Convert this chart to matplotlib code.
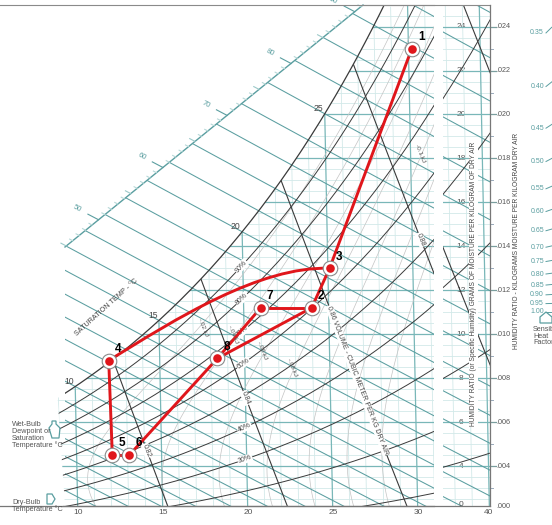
import numpy as np
import matplotlib
matplotlib.use("Agg")
import matplotlib.pyplot as plt
from matplotlib.transforms import Affine2D, blended_transform_factory
from matplotlib.path import Path
from matplotlib.patches import PathPatch, Polygon

plt.rcParams['font.family'] = ['Liberation Sans', 'DejaVu Sans']

# ------------------------------------------------------------------ data
state_names = ["1", "2", "3", "4", "5", "6", "7", "8"]
state_db = [30.2, 24.0, 25.1, 12.0, 12.1, 13.1, 21.0, 18.4]     # dry bulb, °C
state_w = [23.0, 11.2, 13.0, 8.8, 4.5, 4.5, 11.2, 8.9]          # humidity ratio, g/kg
process_legs = [("1", "3"), ("3", "2"), ("2", "7"), ("7", "8"),
                ("2", "8"), ("4", "5"), ("5", "6"), ("6", "8")]
# curved leg 3 -> 4, cubic Bezier handles (dry bulb, humidity ratio)
curve_handle_db = [21.0, 16.0]
curve_handle_w = [13.1, 10.7]

db_ticks = [10, 15, 20, 25, 30]
w_ticks = [4, 6, 8, 10, 12, 14, 16, 18, 20, 22, 24]
w_ticks_kg = [".004", ".006", ".008", ".010", ".012", ".014", ".016",
              ".018", ".020", ".022", ".024"]
sat_labels = [10, 15, 20, 25]
rh_curves = [10, 20, 30, 40, 50, 60, 70, 80, 90]
rh_labels = [90, 80, 70, 60, 40, 30]
volume_lines = [0.78, 0.80, 0.82, 0.84, 0.86, 0.88, 0.90, 0.92]
volume_label_vals = [0.82, 0.84, 0.88]
volume_label_w = [4.7, 7.1, 14.3]
enthalpy_labels = [50, 60, 70, 80, 90]
deviation_levels = [-0.14, -0.12, -0.10, -0.08, -0.06, -0.04, -0.02]
shf_values = [0.35, 0.40, 0.45, 0.50, 0.55, 0.60, 0.65, 0.70, 0.75,
              0.80, 0.85, 0.90, 0.95, 1.00]

# ------------------------------------------------------------------ psychrometrics
P_ATM = 101.325


def p_sat(t):
    return 0.61094 * np.exp(17.625 * t / (t + 243.04))


def w_from_pv(pv):
    return 621.945 * pv / (P_ATM - pv)


def w_sat(t):
    return w_from_pv(p_sat(t))


def w_rh(t, rh):
    return w_from_pv(rh / 100.0 * p_sat(t))


def w_wetbulb(t, twb):
    ws = w_sat(twb) / 1000.0
    return 1000.0 * ((2501 - 2.326 * twb) * ws - 1.006 * (t - twb)) / \
        (2501 + 1.86 * t - 4.186 * twb)


def t_volume(v, w):
    return v * P_ATM / (0.287042 * (1 + 1.607858 * w / 1000.0)) - 273.15


def enthalpy(t, w):
    return 1.006 * t + w / 1000.0 * (2501 + 1.86 * t)


# ------------------------------------------------------------------ layout
FIG_W, FIG_H = 552, 525
PX10, PX_PER_C = 78.3, 17.0
PY4, PX_PER_G = 466.0, 21.97
SKEW, SKEW_W0 = 0.026, 0.7


def x_of(px):
    return 10 + (px - PX10) / PX_PER_C


def w_of(py):
    return 4 + (PY4 - py) / PX_PER_G


def t_of(x, w):
    return x + SKEW * (w - SKEW_W0)


def x_from_t(t, w):
    return t - SKEW * (w - SKEW_W0)


fig = plt.figure(figsize=(FIG_W / 100, FIG_H / 100), dpi=100)
ax = fig.add_axes([0, 0, 1, 1])
ax.set_xlim(x_of(0), x_of(FIG_W))
ax.set_ylim(w_of(FIG_H), w_of(0))
ax.axis('off')

STRIP_L, STRIP_R = 443, 490
ax2 = fig.add_axes([STRIP_L / FIG_W, 0, (STRIP_R - STRIP_L) / FIG_W, 1])
ax2.set_xlim(40 - (STRIP_R - STRIP_L) / PX_PER_C, 40)
ax2.set_ylim(w_of(FIG_H), w_of(0))
ax2.axis('off')
ax2.patch.set_alpha(0)

shear = Affine2D.from_values(1, 0, -SKEW, 1, SKEW * SKEW_W0, 0)
tr = shear + ax.transData

TEAL = "#5a9ea0"
TEAL_MAJ = "#79b7b8"
GRID = "#d2e9e9"
DARK = "#3a3a3a"
GRAYTXT = "#555555"
RED = "#e0161b"
narrow = ["Liberation Sans Narrow", "Liberation Sans"]

X_L, X_R = x_of(65), x_of(434)
W_B, W_T = w_of(506), w_of(5)
scale_a = (x_of(65), w_of(247))
scale_b = (x_of(363), w_of(5))

# chart outline (includes the region above saturation up to the enthalpy scale)
clip_all = Polygon([(X_L, W_B), (X_R, W_B), (X_R, W_T), scale_b, scale_a],
                   closed=True, transform=ax.transData)
# region below the saturation curve
ts = np.linspace(-10, 40, 600)
wsat = w_sat(ts)
xsat = x_from_t(ts, wsat)
keep = (wsat <= W_T) & (xsat >= X_L - 0.5)
sat_poly = [(X_L, W_B), (X_R, W_B), (X_R, W_T)] + \
    list(zip(xsat[keep][::-1], wsat[keep][::-1]))
clip_sub = Polygon(sat_poly, closed=True, transform=ax.transData)

strip_rect = [(-50, W_B), (80, W_B), (80, W_T), (-50, W_T)]
clip_strip = Polygon(strip_rect, closed=True, transform=ax2.transData)

# enthalpy deviation field for the faint deviation curves
Tg, Wg = np.meshgrid(np.linspace(-5, 45, 260), np.linspace(0.5, 27, 200))
lo = np.full(Tg.shape, -15.0)
hi = Tg.copy()
for _ in range(45):
    mid = 0.5 * (lo + hi)
    above = w_wetbulb(Tg, mid) > Wg
    hi = np.where(above, mid, hi)
    lo = np.where(above, lo, mid)
twb_g = 0.5 * (lo + hi)
dev_g = -(w_sat(twb_g) - Wg) / 1000.0 * 4.186 * twb_g / 2.4


def clipped(artist, clip):
    artist.set_clip_path(clip)
    return artist


def draw_field(axis, c_all, c_sub):
    t_sh = shear + axis.transData
    wspan = np.array([0.0, 26.0])
    for t in range(-5, 46):
        major = t % 5 == 0
        ln, = axis.plot([t, t], wspan, transform=t_sh,
                        color=TEAL_MAJ if major else GRID,
                        lw=0.9 if major else 0.6, zorder=2 if major else 1)
        clipped(ln, c_sub)
    for w in np.arange(0, 26.01, 0.5):
        major = abs(w % 2) < 1e-6
        ln, = axis.plot([-10, 50], [w, w], transform=t_sh,
                        color=TEAL_MAJ if major else GRID,
                        lw=0.9 if major else 0.6, zorder=2 if major else 1)
        clipped(ln, c_sub)
    # deviation curves
    cs = axis.contour(Tg, Wg, dev_g, levels=deviation_levels, colors="#c4c4c4",
                      linewidths=0.5, linestyles="solid", transform=t_sh, zorder=2)
    cs.set_clip_path(c_sub)
    # wet-bulb lines, carried on to the enthalpy scale
    for twb in range(-10, 34):
        tt = np.linspace(twb - 30, 50, 200)
        ln, = axis.plot(tt, w_wetbulb(tt, twb), transform=t_sh, color=TEAL,
                        lw=0.75, zorder=3)
        clipped(ln, c_all)
    # relative humidity curves
    tt = np.linspace(-10, 50, 400)
    for rh in rh_curves:
        ln, = axis.plot(tt, w_rh(tt, rh), transform=t_sh, color=DARK,
                        lw=0.7, zorder=4)
        clipped(ln, c_sub)
    ln, = axis.plot(tt, w_sat(tt), transform=t_sh, color=DARK, lw=0.9, zorder=4)
    clipped(ln, c_all)
    # specific volume lines
    ww = np.linspace(0, 27, 50)
    for v in volume_lines:
        ln, = axis.plot(t_volume(v, ww), ww, transform=t_sh, color=DARK,
                        lw=0.8, zorder=4)
        clipped(ln, c_sub)


draw_field(ax, clip_all, clip_sub)
draw_field(ax2, clip_strip, clip_strip)

# frame lines
ax.plot([x_of(63), X_R], [W_B, W_B], color="#777777", lw=0.9, zorder=5)
ax.plot([scale_b[0], X_R], [W_T, W_T], color="#8a8a8a", lw=0.8, zorder=5)
ax2.plot([0, 40], [W_B, W_B], color="#777777", lw=0.9, zorder=5, clip_on=False)
ax2.plot([0, 40], [W_T, W_T], color="#8a8a8a", lw=0.8, zorder=5, clip_on=False)
ax2.plot([40, 40], [W_B, W_T], color="#777777", lw=0.9, zorder=5, clip_on=False)

# enthalpy scale with its ticks and labels
ax.plot([scale_a[0], scale_b[0]], [scale_a[1], scale_b[1]], color=TEAL, lw=1.0, zorder=5)


def scale_point(h):
    lo_s, hi_s = 0.0, 1.0
    for _ in range(50):
        s = 0.5 * (lo_s + hi_s)
        x = scale_a[0] + s * (scale_b[0] - scale_a[0])
        w = scale_a[1] + s * (scale_b[1] - scale_a[1])
        if enthalpy(t_of(x, w), w) < h:
            lo_s = s
        else:
            hi_s = s
    return t_of(x, w), w


inv = tr.inverted()


def outward(h):
    t0, w0 = scale_point(h)
    t1 = t0 - 1.0
    w1 = (h - 1.006 * t1) / (2.501 + 0.00186 * t1)
    p0, p1 = tr.transform([(t0, w0), (t1, w1)])
    d = (p1 - p0) / np.hypot(*(p1 - p0))
    return p0, d


for h in range(45, 92):
    p0, d = outward(h)
    if h % 10 == 0:
        length, col = 12, TEAL
    elif h % 5 == 0:
        length, col = 6, "#9cc9c9"
    else:
        length, col = 3.5, "#b7d8d8"
    seg = inv.transform([p0, p0 + d * length])
    ax.plot(seg[:, 0], seg[:, 1], transform=tr, color=col, lw=0.8, zorder=5,
            clip_on=False)
for h in enthalpy_labels:
    p0, d = outward(h)
    lab = inv.transform([p0 + d * 24])[0]
    ang = np.degrees(np.arctan2(-d[1], -d[0]))
    ax.text(lab[0], lab[1], str(h), transform=tr, fontsize=5.5, color=TEAL,
            rotation=ang, ha="center", va="center", zorder=6, clip_on=False)

# saturation temperature labels
for t in sat_labels:
    ax.annotate(str(t), (t, w_sat(t)), xycoords=tr, xytext=(-4.5, 3.8),
                textcoords="offset points", fontsize=6.2, color="#444444",
                ha="center", va="center", zorder=6)
fig.text(107 / FIG_W, 1 - 307 / FIG_H, "SATURATION TEMP - °C", fontsize=5.2,
         color="#444444", rotation=42, ha="center", va="center")


def curve_angle(f, t, dt=0.3):
    p = tr.transform([(t - dt, f(t - dt)), (t + dt, f(t + dt))])
    return np.degrees(np.arctan2(p[1, 1] - p[0, 1], p[1, 0] - p[0, 0]))


bbox_w = dict(facecolor="white", edgecolor="none", pad=0.4)
for rh in rh_labels:
    f = (lambda r: (lambda t: w_rh(t, r)))(rh)
    ax.text(19.9, f(19.9), f"{rh}%", transform=tr, fontsize=5.0, color="#444444",
            rotation=curve_angle(f, 19.9), rotation_mode="anchor", ha="center",
            va="center", bbox=bbox_w, zorder=6)

# volume labels
for v, w in zip(volume_label_vals, volume_label_w):
    p = tr.transform([(t_volume(v, w + 0.3), w + 0.3), (t_volume(v, w - 0.3), w - 0.3)])
    ang = np.degrees(np.arctan2(p[1, 1] - p[0, 1], p[1, 0] - p[0, 0]))
    ax.text(t_volume(v, w), w, f"{v:.2f}", transform=tr, fontsize=5.0,
            color="#444444", rotation=ang, rotation_mode="anchor", ha="center",
            va="center", bbox=bbox_w, zorder=6)
wv = 7.9
p = tr.transform([(t_volume(0.86, wv + 0.3), wv + 0.3), (t_volume(0.86, wv - 0.3), wv - 0.3)])
ang = np.degrees(np.arctan2(p[1, 1] - p[0, 1], p[1, 0] - p[0, 0]))
ax.text(t_volume(0.86, wv), wv, "0.86 VOLUME - CUBIC METER PER KG DRY AIR",
        transform=tr, fontsize=5.0, color="#444444", rotation=ang,
        rotation_mode="anchor", ha="center", va="center", bbox=bbox_w, zorder=6,
        family=narrow)

# enthalpy deviation labels
for txt, px, py in [("-.02 kJ", 203, 327), ("-.04 kJ", 233, 334),
                    ("-.06 kJ", 262, 350), ("-.08 kJ", 292, 367),
                    ("-0.1 kJ", 420, 153)]:
    fig.text(px / FIG_W, 1 - py / FIG_H, txt, fontsize=4.6, color="#555555",
             rotation=-68, ha="center", va="center")

# dry bulb axis labels
for t in db_ticks:
    ax.text(t, w_of(513), str(t), fontsize=6.0, color=GRAYTXT, ha="center",
            va="center")
fig.text(489 / FIG_W, 1 - 512 / FIG_H, "40", fontsize=6.0, color=GRAYTXT,
         ha="center", va="center")

# humidity ratio scales
bt = blended_transform_factory(fig.transFigure, ax.transData)
for w, lab in zip(w_ticks, w_ticks_kg):
    ax.text(461 / FIG_W, w, str(w), transform=bt, fontsize=6.0, color=GRAYTXT,
            ha="center", va="center",
            bbox=dict(facecolor="white", edgecolor="none", pad=0.6), zorder=8)
    ax.plot([490 / FIG_W, 496 / FIG_W], [w, w], transform=bt, color="#7a9e9e",
            lw=0.9, zorder=8)
    ax.text(496.5 / FIG_W, w, lab, transform=bt, fontsize=5.2, color=GRAYTXT,
            ha="left", va="center", family=narrow)
for w in np.arange(3, 25, 1.0):
    if w % 2:
        ax.plot([490 / FIG_W, 493 / FIG_W], [w, w], transform=bt, color="#99aabb",
                lw=0.7, zorder=8)
fig.text(461 / FIG_W, 1 - 504 / FIG_H, "0", fontsize=6.0, color=GRAYTXT,
         ha="center", va="center")
fig.text(496.5 / FIG_W, 1 - 506 / FIG_H, ".000", fontsize=5.2, color=GRAYTXT,
         ha="left", va="center", family=narrow)
fig.text(473.5 / FIG_W, 1 - 284 / FIG_H,
         "HUMIDITY RATIO (or Specific Humidity) GRAMS OF MOISTURE PER KILOGRAM OF DRY AIR",
         fontsize=4.8, color="#444444", rotation=90, ha="center", va="center",
         family=narrow, bbox=dict(facecolor="white", edgecolor="none", pad=0.5))
fig.text(516 / FIG_W, 1 - 241 / FIG_H,
         "HUMIDITY RATIO - KILOGRAMS MOISTURE PER KILOGRAM DRY AIR",
         fontsize=4.8, color="#444444", rotation=90, ha="center", va="center",
         family=narrow)

# sensible heat factor scale
SHF_Y1, SHF_K, SHF_CX = 311.5, 150.0, 263.0
for s in shf_values:
    py = SHF_Y1 - SHF_K * (1 - s) / s
    fig.text(544 / FIG_W, 1 - py / FIG_H, f"{s:.2f}", fontsize=5.0, color=TEAL,
             ha="right", va="center")
    dx, dy = 546 - SHF_CX, py - SHF_Y1
    n = np.hypot(dx, dy)
    ex, ey = 546 + 8 * dx / n, py + 8 * dy / n
    fig.add_artist(plt.Line2D([546 / FIG_W, ex / FIG_W],
                              [1 - py / FIG_H, 1 - ey / FIG_H], color=TEAL, lw=0.7))
house = np.array([(540, 323), (540, 317), (546, 312), (552, 317), (552, 323)])
fig.add_artist(Polygon(np.column_stack([house[:, 0] / FIG_W, 1 - house[:, 1] / FIG_H]),
                       closed=True, fill=False, edgecolor=TEAL, lw=0.9,
                       transform=fig.transFigure))
fig.text(533 / FIG_W, 1 - 326 / FIG_H, "Sensible\nHeat\nFactor", fontsize=5.2,
         color=GRAYTXT, ha="left", va="top", linespacing=0.95)

# side captions with their pointer icons
fig.text(12 / FIG_W, 1 - 421 / FIG_H, "Wet-Bulb\nDewpoint or\nSaturation\nTemperature °C",
         fontsize=5.2, color=GRAYTXT, ha="left", va="top", linespacing=0.95)
fig.text(12 / FIG_W, 1 - 499 / FIG_H, "Dry-Bulb\nTemperature °C",
         fontsize=5.2, color=GRAYTXT, ha="left", va="top", linespacing=0.95)
wb_icon = np.array([(52, 424), (49, 428), (52, 438), (59, 438), (60, 428), (56, 424),
                    (56, 421), (52, 421)])
db_icon = np.array([(47, 494), (52, 494), (55, 499), (52, 504), (47, 504)])
for icon in (wb_icon, db_icon):
    fig.add_artist(Polygon(np.column_stack([icon[:, 0] / FIG_W, 1 - icon[:, 1] / FIG_H]),
                           closed=True, fill=False, edgecolor=TEAL, lw=0.9,
                           transform=fig.transFigure))

# ------------------------------------------------------------------ process path
pos = {n: (t, w) for n, t, w in zip(state_names, state_db, state_w)}
for a, b in process_legs:
    ax.plot([pos[a][0], pos[b][0]], [pos[a][1], pos[b][1]], transform=tr,
            color=RED, lw=2.1, solid_capstyle="round", zorder=10)
bez = Path([pos["3"], (curve_handle_db[0], curve_handle_w[0]),
            (curve_handle_db[1], curve_handle_w[1]), pos["4"]],
           [Path.MOVETO, Path.CURVE4, Path.CURVE4, Path.CURVE4])
ax.add_patch(PathPatch(bez, transform=tr, facecolor="none", edgecolor=RED,
                       lw=2.1, zorder=10))

ax.plot(state_db, state_w, "o", transform=tr, ms=10.5, mfc="white", mec="#8a8a8a",
        mew=0.8, zorder=11)
ax.plot(state_db, state_w, "o", transform=tr, ms=6.2, mfc=RED, mec="none", zorder=12)
for n in state_names:
    ax.annotate(n, pos[n], xycoords=tr, xytext=(6.8, 8.3), textcoords="offset points",
                fontsize=8.5, fontweight="bold", color="black", ha="center",
                va="center", zorder=13)

fig.savefig("out.png", dpi=100)
